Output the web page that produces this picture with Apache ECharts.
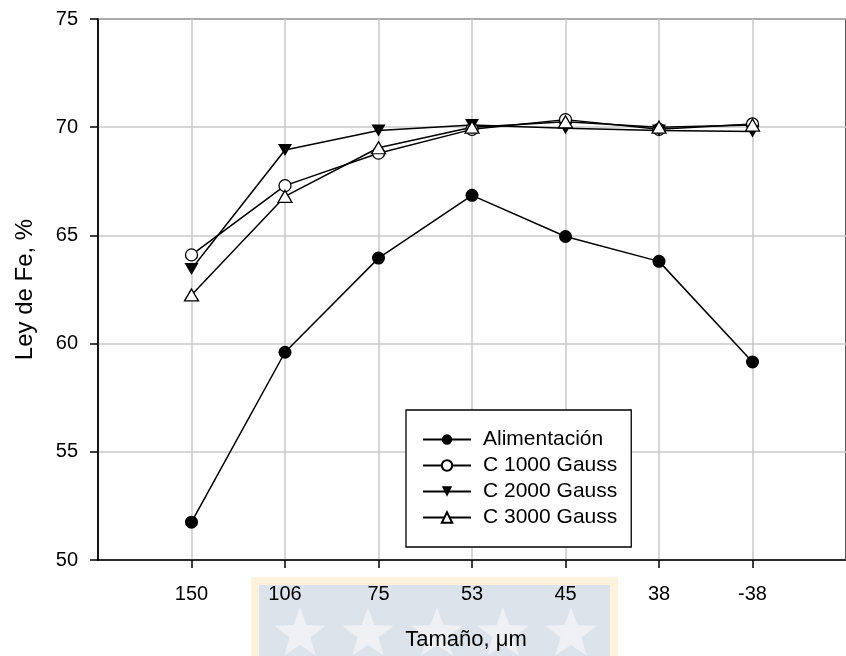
<!DOCTYPE html>
<html>
<head>
<meta charset="utf-8">
<script src="https://cdn.jsdelivr.net/npm/echarts@6/dist/echarts.min.js"></script>
<style>html,body{margin:0;padding:0;background:#fff;}#c{width:846px;height:656px;}</style>
</head>
<body>
<div id="c"></div>
<script>
var sizes = ['150', '106', '75', '53', '45', '38', '-38'];
var alimentacion = [51.75, 59.6, 63.95, 66.85, 64.95, 63.8, 59.15];
var c1000 = [64.1, 67.3, 68.8, 69.9, 70.35, 69.9, 70.15];
var c2000 = [63.45, 68.95, 69.85, 70.1, 69.95, 69.85, 69.8];
var c3000 = [62.25, 66.8, 69.05, 70.0, 70.25, 70.0, 70.1];
var yTicks = [50, 55, 60, 65, 70, 75];

function pts(arr) { return arr.map(function (v, i) { return [i + 1, v]; }); }
var FONT = '"Liberation Sans", Arial, sans-serif';
var positions = sizes.map(function (s, i) { return i + 1; });

function star(cx, cy, R, r) {
  var p = [];
  for (var k = 0; k < 10; k++) {
    var a = -Math.PI / 2 + k * Math.PI / 5;
    var rr = k % 2 === 0 ? R : r;
    p.push([cx + rr * Math.cos(a), cy + rr * Math.sin(a)]);
  }
  return p;
}
var starEls = [300, 368, 437, 503, 571].map(function (cx) {
  return { type: 'polygon', z: -10, silent: true, shape: { points: star(cx, 634, 27, 11) }, style: { fill: '#eef0f3' } };
});

var chart = echarts.init(document.getElementById('c'), null, { renderer: 'canvas' });
var lineW = 1.5;
function ser(name, data, symbol, size, rotate, fill) {
  return {
    name: name, type: 'line', data: pts(data), symbol: symbol, symbolSize: size, symbolRotate: rotate,
    showSymbol: true, animation: false,
    lineStyle: { color: '#000', width: lineW },
    itemStyle: { color: fill, borderColor: '#000', borderWidth: fill === '#000' ? 0 : 1.3 },
    emphasis: { disabled: true }
  };
}
chart.setOption({
  animation: false,
  backgroundColor: '#fff',
  graphic: {
    z: -10,
    elements: [
      { type: 'rect', z: -10, silent: true, shape: { x: 251, y: 577, width: 367, height: 90 }, style: { fill: '#fdf2de' } },
      { type: 'rect', z: -10, silent: true, shape: { x: 259, y: 585, width: 351, height: 80 }, style: { fill: '#dce3eb' } }
    ].concat(starEls)
  },
  grid: { left: 98, top: 19, width: 761, height: 543, show: true, borderColor: '#222', borderWidth: 1.5, backgroundColor: 'transparent' },
  legend: {
    orient: 'vertical', left: 406, top: 410,
    padding: [19, 14, 19, 16],
    itemWidth: 48, itemHeight: 13, itemGap: 5,
    backgroundColor: '#fff', borderColor: '#000', borderWidth: 1.3, borderRadius: 0,
    textStyle: { fontFamily: FONT, fontSize: 21, color: '#000', lineHeight: 20, padding: [0, 0, 0, 7] },
    data: ['Alimentación', 'C 1000 Gauss', 'C 2000 Gauss', 'C 3000 Gauss']
  },
  xAxis: {
    type: 'value', min: 0, max: 8, interval: 1,
    name: 'Tamaño, μm', nameLocation: 'middle', nameGap: 69,
    nameTextStyle: { fontFamily: FONT, fontSize: 22, color: '#000', padding: [0, 12, 0, 0] },
    axisLine: { show: true, onZero: false, lineStyle: { color: '#000', width: 1.5 } },
    axisTick: { show: true, length: 8, inside: false, customValues: positions, lineStyle: { color: '#000', width: 1.5 } },
    axisLabel: { show: true, margin: 24, customValues: positions, fontFamily: FONT, fontSize: 20, color: '#000',
      formatter: function (v) { var i = Math.round(v) - 1; return (i >= 0 && i < sizes.length && Math.abs(v - i - 1) < 1e-6) ? sizes[i] : ''; } },
    splitLine: { show: true, lineStyle: { color: '#c8c8c8', width: 1.5 } }
  },
  yAxis: {
    type: 'value', min: 50, max: 75, interval: 5,
    name: 'Ley de Fe, %', nameLocation: 'middle', nameGap: 61, nameRotate: 90,
    nameTextStyle: { fontFamily: FONT, fontSize: 24, color: '#000' },
    axisLine: { show: true, lineStyle: { color: '#000', width: 1.5 } },
    axisTick: { show: true, length: 8, inside: false, lineStyle: { color: '#000', width: 1.5 } },
    axisLabel: { margin: 20, fontFamily: FONT, fontSize: 20, color: '#000',
      formatter: function (v) { return yTicks.indexOf(v) >= 0 ? String(v) : ''; } },
    splitLine: { show: true, lineStyle: { color: '#c8c8c8', width: 1.5 } }
  },
  series: [
    ser('Alimentación', alimentacion, 'circle', 13, 0, '#000'),
    ser('C 1000 Gauss', c1000, 'circle', 12, 0, '#fff'),
    ser('C 2000 Gauss', c2000, 'triangle', [14, 12], 180, '#000'),
    ser('C 3000 Gauss', c3000, 'triangle', [14, 12], 0, '#fff')
  ]
});
</script>
</body>
</html>
